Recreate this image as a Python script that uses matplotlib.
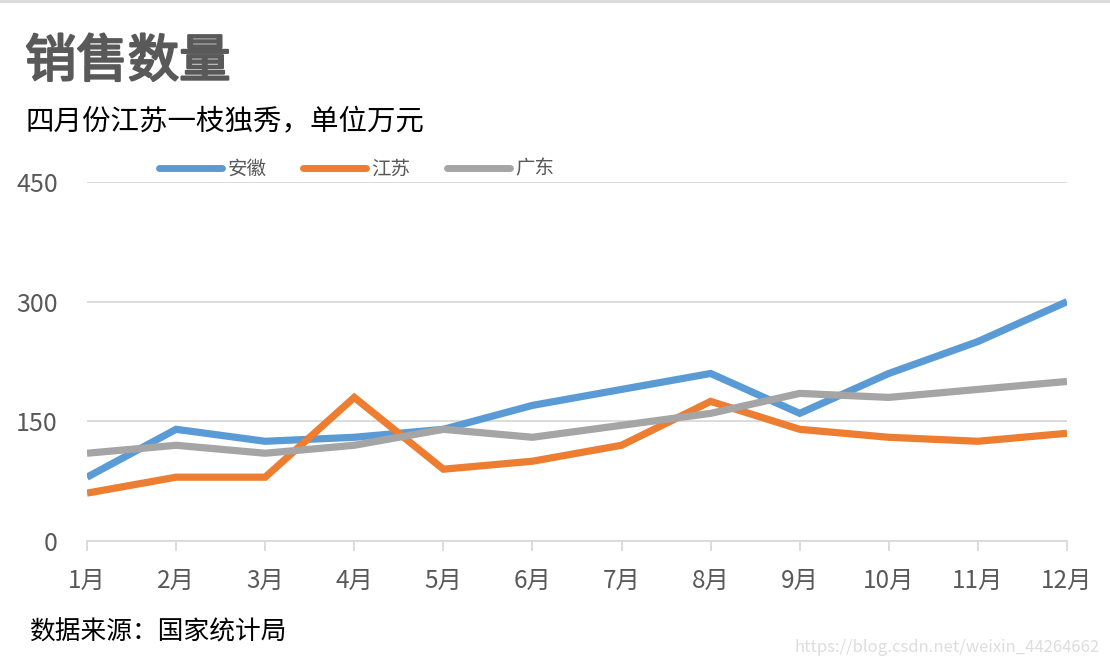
import matplotlib
matplotlib.use("Agg")
import matplotlib.pyplot as plt
import matplotlib.patheffects as pe
from matplotlib.lines import Line2D

plt.rcParams['font.family'] = ['Noto Sans CJK SC', 'DejaVu Sans']

# 数据
months = ["1月", "2月", "3月", "4月", "5月", "6月",
          "7月", "8月", "9月", "10月", "11月", "12月"]
anhui = [80, 140, 125, 130, 140, 170, 190, 210, 160, 210, 250, 300]
jiangsu = [60, 80, 80, 180, 90, 100, 120, 175, 140, 130, 125, 135]
guangdong = [110, 120, 110, 120, 140, 130, 145, 160, 185, 180, 190, 200]
y_ticks = [0, 150, 300, 450]

series = [("安徽", anhui, "#5B9BD5"),
          ("江苏", jiangsu, "#ED7D31"),
          ("广东", guangdong, "#A5A5A5")]

fig = plt.figure(figsize=(11.1, 6.66), dpi=100)
ax = fig.add_axes([87 / 1110, 125 / 666, 980 / 1110, 359 / 666])

x = list(range(len(months)))
for name, vals, color in series:
    ax.plot(x, vals, color=color, linewidth=5.2, solid_joinstyle="miter",
            solid_capstyle="butt", label=name, zorder=3)

ax.set_xlim(0, len(months) - 1)
ax.set_ylim(0, 450)
ax.set_yticks(y_ticks)
ax.set_xticks(x)
ax.set_xticklabels(months)
ax.grid(axis="y", color="#D9D9D9", linewidth=1.3)
ax.set_axisbelow(True)
for side in ["top", "right", "left"]:
    ax.spines[side].set_visible(False)
ax.spines["bottom"].set_color("#D9D9D9")
ax.spines["bottom"].set_linewidth(1.3)
ax.tick_params(axis="y", length=0, pad=21, labelsize=18, labelcolor="#595959")
ax.tick_params(axis="x", length=7, width=1.3, color="#D9D9D9", pad=12,
               labelsize=17.5, labelcolor="#595959")

# 图例
handles = [Line2D([0], [0], color=c, linewidth=5, solid_capstyle="round")
           for _, _, c in series]
fig.legend(handles, [s[0] for s in series], loc="center left",
           bbox_to_anchor=(141 / 1110, 1 - 169 / 666), ncol=3, frameon=False,
           fontsize=14, labelcolor="#595959", handlelength=3.25,
           handletextpad=0.3, columnspacing=1.85)

# 标题与注释（标题略加粗）
fig.text(25 / 1110, 1 - 62 / 666, "销售数量", fontsize=37, color="#595959",
         va="center", ha="left",
         path_effects=[pe.withStroke(linewidth=1.6, foreground="#595959")])
fig.text(26 / 1110, 1 - 122 / 666, "四月份江苏一枝独秀，单位万元", fontsize=20.5,
         color="black", va="center", ha="left")
fig.text(29 / 1110, 1 - 633 / 666, "数据来源：国家统计局", fontsize=18.5,
         color="black", va="center", ha="left")
fig.text(1100 / 1110, 1 - 647 / 666, "https://blog.csdn.net/weixin_44264662",
         fontsize=12, color="#DDDDDD", va="center", ha="right")

# 顶部边线
fig.add_artist(Line2D([0, 1], [1 - 1 / 666, 1 - 1 / 666], color="#D9D9D9",
                      linewidth=2, transform=fig.transFigure))

fig.savefig("out.png", dpi=100)
